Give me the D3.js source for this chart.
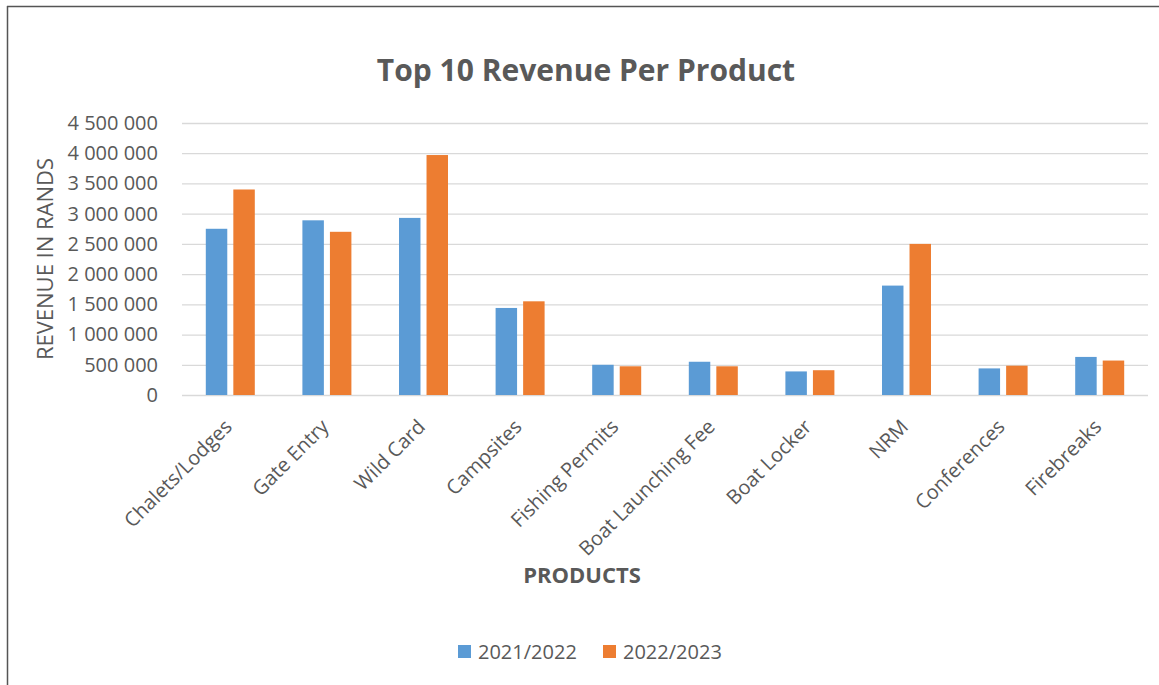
<!DOCTYPE html>
<html>
<head>
<meta charset="utf-8">
<script src="https://cdn.jsdelivr.net/npm/d3@7"></script>
<style>
  html, body { margin: 0; padding: 0; background: #fff; }
  svg { display: block; }
  text { font-family: "Open Sans", "DejaVu Sans", sans-serif; fill: #595959; }
</style>
</head>
<body>
<svg id="chart" width="1159" height="685"></svg>
<script>
// Revenue per product, two financial years
const products = ["Chalets/Lodges", "Gate Entry", "Wild Card", "Campsites", "Fishing Permits",
                  "Boat Launching Fee", "Boat Locker", "NRM", "Conferences", "Firebreaks"];
const seriesNames = ["2021/2022", "2022/2023"];
const revenue2021 = [2750000, 2890000, 2930000, 1440000, 500000, 550000, 390000, 1810000, 440000, 630000];
const revenue2022 = [3400000, 2700000, 3970000, 1550000, 475000, 475000, 410000, 2500000, 485000, 570000];
const yTicks = [0, 500000, 1000000, 1500000, 2000000, 2500000, 3000000, 3500000, 4000000, 4500000];
const seriesColors = ["#5B9BD5", "#ED7D31"];

const svg = d3.select("#chart");
const W = 1159, H = 685;
const plot = { left: 182, right: 1148, top: 123, bottom: 395 };

// frame lines along the top and left edge
svg.append("line").attr("x1", 7).attr("x2", W).attr("y1", 6.5).attr("y2", 6.5)
  .attr("stroke", "#555").attr("stroke-width", 1.5);
svg.append("line").attr("x1", 7.5).attr("x2", 7.5).attr("y1", 6).attr("y2", H)
  .attr("stroke", "#555").attr("stroke-width", 1.5);

const x0 = d3.scaleBand().domain(products).range([plot.left, plot.right]).padding(0);
const groupW = 49;
const x1 = d3.scaleBand().domain(seriesNames)
  .range([(x0.bandwidth() - groupW) / 2, (x0.bandwidth() + groupW) / 2])
  .paddingInner(0.22);
const y = d3.scaleLinear().domain([0, 4500000]).range([plot.bottom, plot.top]);

// title
svg.append("text").attr("x", 586).attr("y", 81).attr("text-anchor", "middle")
  .style("font-size", "30px").style("font-weight", 700)
  .text("Top 10 Revenue Per Product");

// gridlines + y tick labels via axis
const fmt = v => d3.format(",")(v).replace(/,/g, " ");
const yAxis = d3.axisLeft(y).tickValues(yTicks).tickFormat(fmt)
  .tickSize(-(plot.right - plot.left)).tickPadding(24);
const gy = svg.append("g").attr("transform", `translate(${plot.left},0)`).call(yAxis);
gy.select(".domain").remove();
gy.selectAll(".tick line").attr("stroke", "#D9D9D9").attr("stroke-width", 1.3);
gy.selectAll(".tick text").style("font-size", "20px").attr("fill", "#595959");

// bars
const rows = products.map((p, i) => ({ product: p, values: [revenue2021[i], revenue2022[i]] }));
const groups = svg.append("g").selectAll("g").data(rows).join("g")
  .attr("transform", d => `translate(${x0(d.product)},0)`);
groups.selectAll("rect")
  .data(d => d.values.map((v, k) => ({ series: seriesNames[k], value: v, k })))
  .join("rect")
  .attr("x", d => x1(d.series))
  .attr("width", x1.bandwidth())
  .attr("y", d => y(d.value))
  .attr("height", d => y(0) - y(d.value))
  .attr("fill", d => seriesColors[d.k]);

// x axis category labels, rotated
const xAxis = d3.axisBottom(x0).tickSize(0).tickPadding(0);
const gx = svg.append("g").attr("transform", `translate(0,${plot.bottom})`).call(xAxis);
gx.select(".domain").remove();
gx.selectAll(".tick text")
  .attr("text-anchor", "end")
  .attr("dy", 0).attr("y", 0)
  .attr("transform", "translate(3,33) rotate(-45)")
  .style("font-size", "20px").attr("fill", "#595959");

// axis titles
svg.append("text").attr("x", 582).attr("y", 583).attr("text-anchor", "middle")
  .style("font-size", "22px").style("font-weight", 700).text("PRODUCTS");
svg.append("text").attr("transform", "translate(53,259) rotate(-90)")
  .attr("text-anchor", "middle").style("font-size", "22px").text("REVENUE IN RANDS");

// legend
const legend = svg.append("g");
const legendX = [458, 603];
seriesNames.forEach((s, k) => {
  legend.append("rect").attr("x", legendX[k]).attr("y", 645).attr("width", 13).attr("height", 13)
    .attr("fill", seriesColors[k]);
  legend.append("text").attr("x", legendX[k] + 20).attr("y", 659)
    .style("font-size", "20px").text(s);
});
</script>
</body>
</html>
